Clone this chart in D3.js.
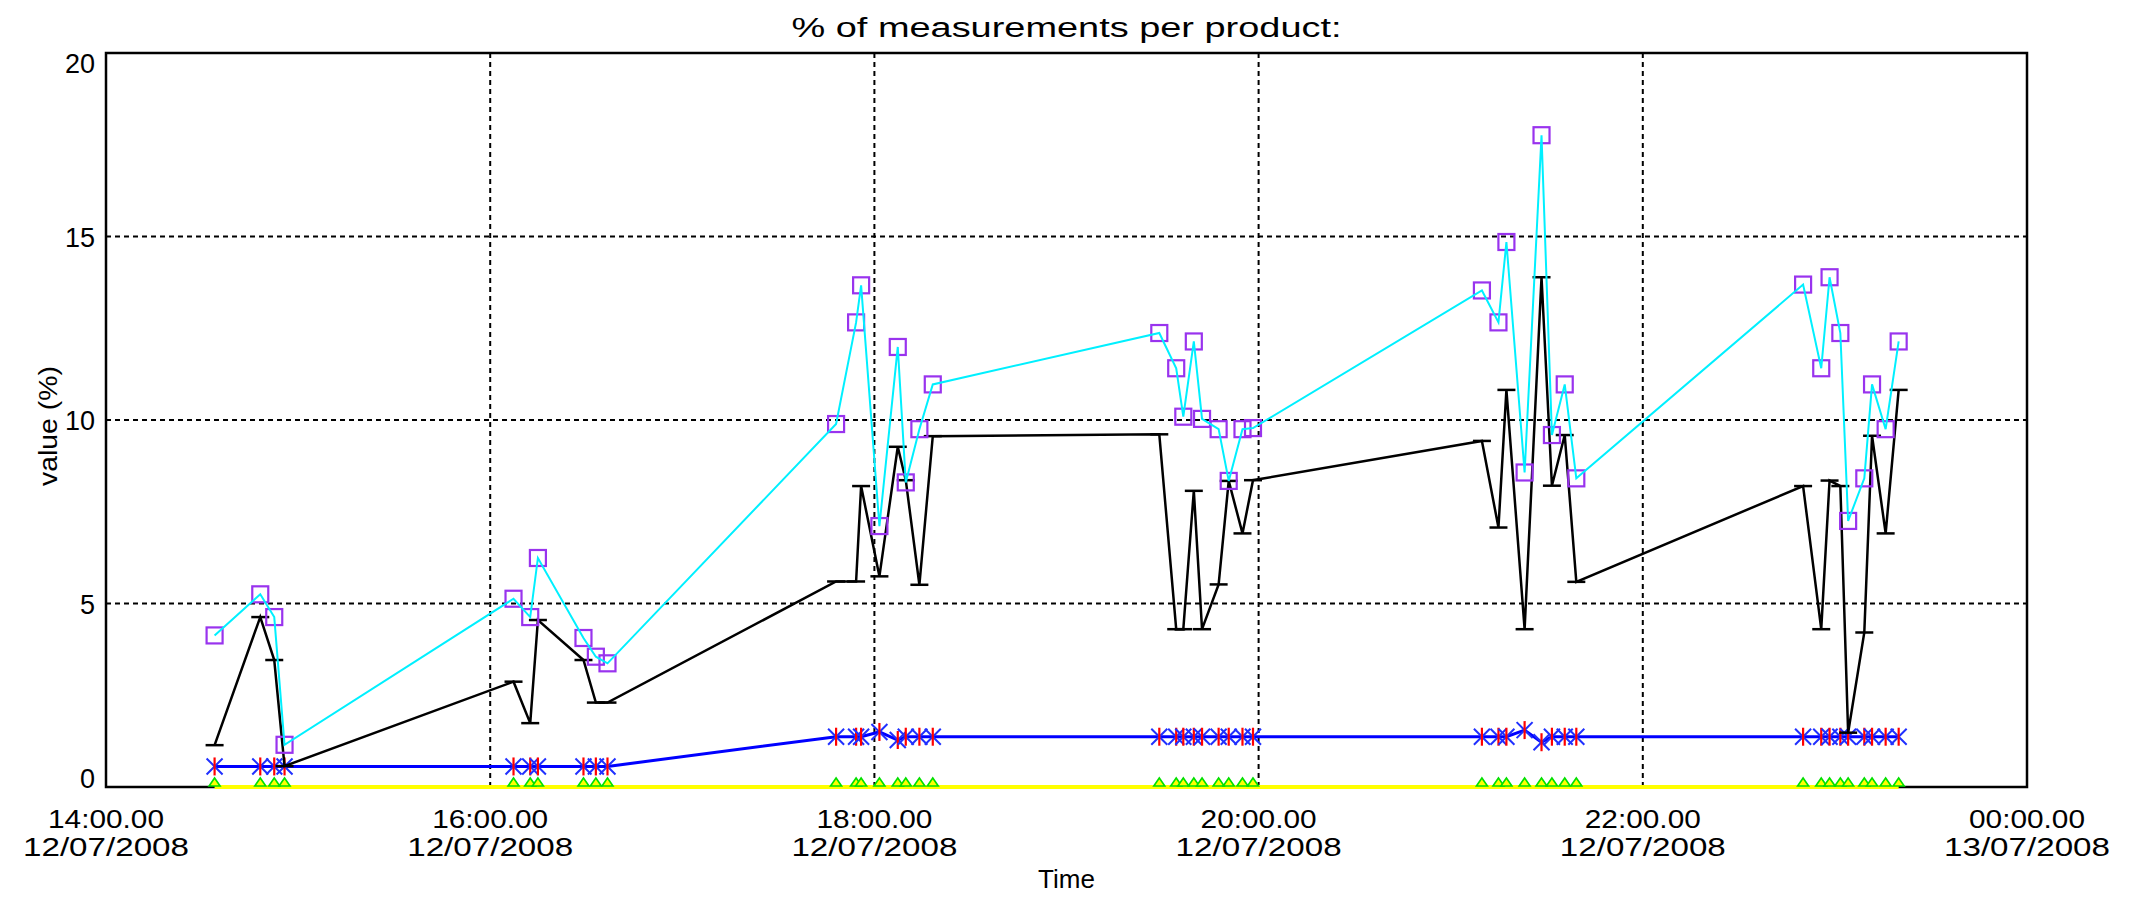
<!DOCTYPE html>
<html>
<head>
<meta charset="utf-8">
<script src="https://cdn.jsdelivr.net/npm/d3@7"></script>
<style>
  html, body { margin: 0; padding: 0; background: #ffffff; }
  svg { display: block; }
  text { font-family: "Liberation Sans", Arial, sans-serif; fill: #000; }
</style>
</head>
<body>
<svg id="chart" width="2129" height="910"></svg>
<script>
// ---------------- data ----------------
const chartDate = "2008-07-12";
const times = [
  "14:33:55","14:48:11","14:52:33","14:55:46",
  "16:07:17","16:12:30","16:14:54","16:29:08","16:33:00","16:36:38",
  "17:48:02","17:54:17","17:55:51","18:01:34","18:07:18","18:09:48","18:14:03","18:18:14",
  "19:28:59","19:34:16","19:36:29","19:39:46","19:42:20","19:47:31","19:50:40","19:54:58","19:58:15",
  "21:09:45","21:14:55","21:17:24","21:23:05","21:28:22","21:31:37","21:35:37","21:39:14",
  "22:50:04","22:55:44","22:58:20","23:01:42","23:04:08","23:09:11","23:11:36","23:15:51","23:19:55"
];
const cyanValues = [
  4.13, 5.25, 4.63, 1.15,
  5.13, 4.63, 6.24, 4.06, 3.55, 3.37,
  9.89, 12.66, 13.67, 7.11, 11.99, 8.30, 9.75, 10.97,
  12.37, 11.41, 10.09, 12.14, 10.03, 9.75, 8.34, 9.75, 9.78,
  13.53, 12.66, 14.85, 8.57, 17.76, 9.59, 10.97, 8.41,
  13.69, 11.41, 13.89, 12.37, 7.25, 8.41, 10.97, 9.75, 12.14
];
const blackValues = [
  1.14, 4.63, 3.46, 0.57,
  2.87, 1.74, 4.55, 3.46, 2.30, 2.30,
  5.60, 5.60, 8.20, 5.74, 9.27, 8.36, 5.51, 9.56,
  9.61, 4.30, 4.30, 8.07, 4.30, 5.52, 8.34, 6.91, 8.36,
  9.43, 7.07, 10.82, 4.30, 13.89, 8.21, 9.59, 5.59,
  8.20, 4.30, 8.35, 8.20, 1.48, 4.21, 9.57, 6.91, 10.82
];
const blueValues = [
  0.56, 0.56, 0.56, 0.56,
  0.56, 0.56, 0.56, 0.56, 0.56, 0.56,
  1.37, 1.37, 1.37, 1.50, 1.28, 1.37, 1.37, 1.37,
  1.37, 1.37, 1.37, 1.37, 1.37, 1.37, 1.37, 1.37, 1.37,
  1.37, 1.37, 1.37, 1.55, 1.22, 1.37, 1.37, 1.37,
  1.37, 1.37, 1.37, 1.37, 1.37, 1.37, 1.37, 1.37, 1.37
];
const yellowValues = [
  0, 0, 0, 0,
  0, 0, 0, 0, 0, 0,
  0, 0, 0, 0, 0, 0, 0, 0,
  0, 0, 0, 0, 0, 0, 0, 0, 0,
  0, 0, 0, 0, 0, 0, 0, 0,
  0, 0, 0, 0, 0, 0, 0, 0, 0
];
const xTicks = ["2008-07-12T14:00:00","2008-07-12T16:00:00","2008-07-12T18:00:00","2008-07-12T20:00:00","2008-07-12T22:00:00","2008-07-13T00:00:00"];
const xTickTime = ["14:00.00","16:00.00","18:00.00","20:00.00","22:00.00","00:00.00"];
const xTickDate = ["12/07/2008","12/07/2008","12/07/2008","12/07/2008","12/07/2008","13/07/2008"];
const yTicks = [0, 5, 10, 15, 20];
const titleText = "% of measurements per product:";
const xLabel = "Time";
const yLabel = "value (%)";

// ---------------- layout ----------------
const margin = { left: 106, right: 102, top: 53, bottom: 123 };
const W = 2129, H = 910;
const svg = d3.select("#chart");
const parse = d3.timeParse("%Y-%m-%dT%H:%M:%S");
const x = d3.scaleTime()
  .domain([parse("2008-07-12T14:00:00"), parse("2008-07-13T00:00:00")])
  .range([margin.left, W - margin.right]);
const y = d3.scaleLinear().domain([0, 20]).range([H - margin.bottom, margin.top]);
const x0 = x.range()[0], x1 = x.range()[1], y0 = y.range()[0], y1 = y.range()[1];

const dates = times.map(t => parse(chartDate + "T" + t));
const mk = vals => vals.map((v, i) => ({ t: dates[i], v }));

// grid
const grid = svg.append("g");
grid.selectAll("line.gx").data(xTicks.slice(1, -1)).join("line")
  .attr("x1", d => x(parse(d))).attr("x2", d => x(parse(d)))
  .attr("y1", y1).attr("y2", y0)
  .attr("stroke", "#000").attr("stroke-width", 2).attr("stroke-dasharray", "5,4");
grid.selectAll("line.gy").data(yTicks.slice(1, -1)).join("line")
  .attr("x1", x0).attr("x2", x1)
  .attr("y1", d => y(d)).attr("y2", d => y(d))
  .attr("stroke", "#000").attr("stroke-width", 2).attr("stroke-dasharray", "5,4");

// frame
svg.append("rect").attr("x", x0).attr("y", y1).attr("width", x1 - x0).attr("height", y0 - y1)
  .attr("fill", "none").attr("stroke", "#000").attr("stroke-width", 2.5);

const line = d3.line().x(d => x(d.t)).y(d => y(d.v));

// yellow series with green triangles
const yel = mk(yellowValues);
svg.append("path").datum(yel).attr("d", line)
  .attr("fill", "none").attr("stroke", "#ffff00").attr("stroke-width", 4);
svg.append("g").selectAll("path").data(yel).join("path")
  .attr("d", d => { const cx = x(d.t), cy = y(d.v) - 1; return `M${cx - 5.5},${cy} L${cx},${cy - 8} L${cx + 5.5},${cy} Z`; })
  .attr("fill", "#ffff00").attr("stroke", "#00e000").attr("stroke-width", 1.6);

// blue series with asterisks
const blu = mk(blueValues);
svg.append("path").datum(blu).attr("d", line)
  .attr("fill", "none").attr("stroke", "#0000ff").attr("stroke-width", 3);
const ast = svg.append("g").selectAll("g").data(blu).join("g")
  .attr("transform", d => `translate(${x(d.t)},${y(d.v)})`);
ast.append("path").attr("d", "M-8,-8L8,8M-8,8L8,-8").attr("stroke", "#2030ff").attr("stroke-width", 2);
ast.append("path").attr("d", "M0,-9L0,9").attr("stroke", "#ff0000").attr("stroke-width", 2.2);

// black series with bar markers
const blk = mk(blackValues);
svg.append("path").datum(blk).attr("d", line)
  .attr("fill", "none").attr("stroke", "#000").attr("stroke-width", 2.5);
svg.append("g").selectAll("line").data(blk).join("line")
  .attr("x1", d => x(d.t) - 9).attr("x2", d => x(d.t) + 9)
  .attr("y1", d => y(d.v)).attr("y2", d => y(d.v))
  .attr("stroke", "#000").attr("stroke-width", 2.5);

// cyan series with purple squares
const cya = mk(cyanValues);
svg.append("g").selectAll("rect").data(cya).join("rect")
  .attr("x", d => x(d.t) - 8).attr("y", d => y(d.v) - 8)
  .attr("width", 16).attr("height", 16)
  .attr("fill", "none").attr("stroke", "#9933ee").attr("stroke-width", 2.2);
svg.append("path").datum(cya).attr("d", line)
  .attr("fill", "none").attr("stroke", "#00f0ff").attr("stroke-width", 2);

// y tick labels
svg.append("g").selectAll("text").data(yTicks).join("text")
  .attr("x", x0 - 11)
  .attr("y", d => Math.min(Math.max(y(d) + 10, y1 + 20), y0 + 1))
  .attr("text-anchor", "end").attr("font-size", 27)
  .text(d => d);

// x tick labels
const xt = svg.append("g").selectAll("g").data(xTicks).join("g")
  .attr("transform", d => `translate(${x(parse(d))},0)`);
xt.append("text").attr("y", y0 + 41).attr("text-anchor", "middle").attr("font-size", 26)
  .attr("textLength", 116).attr("lengthAdjust", "spacingAndGlyphs")
  .text((d, i) => xTickTime[i]);
xt.append("text").attr("y", y0 + 69).attr("text-anchor", "middle").attr("font-size", 26)
  .attr("textLength", 166).attr("lengthAdjust", "spacingAndGlyphs")
  .text((d, i) => xTickDate[i]);

// titles
const cx = (x0 + x1) / 2;
svg.append("text").attr("x", cx).attr("y", 37).attr("text-anchor", "middle")
  .attr("font-size", 27).attr("textLength", 550).attr("lengthAdjust", "spacingAndGlyphs")
  .text(titleText);
svg.append("text").attr("x", cx).attr("y", 888).attr("text-anchor", "middle")
  .attr("font-size", 26).text(xLabel);
svg.append("text").attr("transform", `translate(57,${(y0 + y1) / 2 + 6}) rotate(-90)`)
  .attr("text-anchor", "middle").attr("font-size", 26)
  .attr("textLength", 120).attr("lengthAdjust", "spacingAndGlyphs")
  .text(yLabel);
</script>
</body>
</html>
